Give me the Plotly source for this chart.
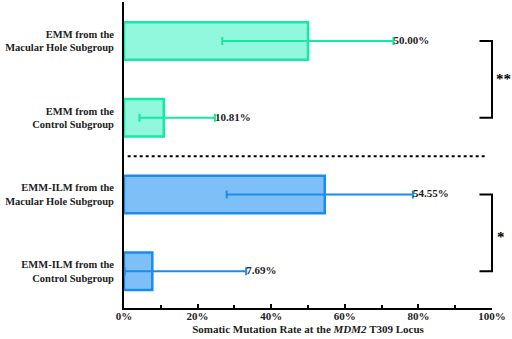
import plotly.graph_objects as go

categories = [
    "EMM-ILM from the<br>Control Subgroup",
    "EMM-ILM from the<br>Macular Hole Subgroup",
    "EMM from the<br>Control Subgroup",
    "EMM from the<br>Macular Hole Subgroup",
]
rates = [7.69, 54.55, 10.81, 50.00]
ci_low = [0.2, 27.9, 4.2, 26.7]
ci_high = [33.2, 78.5, 24.7, 73.2]
value_labels = ["7.69%", "54.55%", "10.81%", "50.00%"]
x_ticks = [0, 20, 40, 60, 80, 100]
x_ticklabels = ["0%", "20%", "40%", "60%", "80%", "100%"]

fill_colors = ["#7fbff8", "#7fbff8", "#92f8dd", "#92f8dd"]
edge_colors = ["#1a8cf0", "#1a8cf0", "#15e9a2", "#15e9a2"]
pos = list(range(len(categories)))

FONT = "Liberation Serif"
fig = go.Figure()
for i in pos:
    fig.add_trace(go.Bar(
        x=[rates[i]], y=[pos[i]], orientation="h", width=0.49,
        marker=dict(color=fill_colors[i], line=dict(color=edge_colors[i], width=2.5)),
        error_x=dict(type="data", symmetric=False,
                     array=[ci_high[i] - rates[i]], arrayminus=[rates[i] - ci_low[i]],
                     color=edge_colors[i], thickness=2, width=4),
        showlegend=False, hoverinfo="skip",
    ))
    fig.add_trace(go.Scatter(
        x=[ci_high[i]], y=[pos[i]], mode="text", text=["<b>" + value_labels[i] + "</b>"],
        textposition="middle right",
        textfont=dict(family=FONT, size=11, color="#222"),
        showlegend=False, hoverinfo="skip", cliponaxis=False,
    ))

# dotted separator
fig.add_shape(type="line", xref="x", yref="y", x0=1, x1=98.7, y0=1.5, y1=1.5,
              line=dict(color="black", width=2, dash="dot"))
# significance brackets
for (ya, yb) in [(3, 2), (1, 0)]:
    fig.add_shape(type="path", xref="paper", yref="y",
                  path=f"M 0.966 {ya} L 1.0 {ya} L 1.0 {yb} L 0.966 {yb}",
                  line=dict(color="black", width=2))
fig.add_annotation(x=1.031, xref="paper", xanchor="center", y=2.5, yref="y", text="<b>**</b>",
                   showarrow=False, font=dict(family=FONT, size=15, color="black"))
fig.add_annotation(x=1.024, xref="paper", xanchor="center", y=0.45, yref="y", text="<b>*</b>",
                   showarrow=False, font=dict(family=FONT, size=15, color="black"))

fig.update_layout(
    width=512, height=339,
    margin=dict(l=124, r=20, t=2, b=31, autoexpand=False),
    plot_bgcolor="white", paper_bgcolor="white",
    font=dict(family=FONT, size=11, color="#222"),
    xaxis=dict(
        range=[0, 100], tickvals=x_ticks, ticktext=["<b>" + t + "</b>" for t in x_ticklabels],
        showline=True, linecolor="black", linewidth=2, ticks="inside", ticklen=4,
        tickwidth=1.5, tickcolor="black", showgrid=False, zeroline=False, automargin=False,
        ticklabelstandoff=-3,
        minor=dict(dtick=10, ticks="inside", ticklen=3, tickwidth=1.5, tickcolor="black"),
        title=dict(text="<b>Somatic Mutation Rate at the <i>MDM2</i> T309 Locus</b>",
                   font=dict(family=FONT, size=11, color="#222"), standoff=4),
        tickfont=dict(family=FONT, size=11, color="#222"),
    ),
    yaxis=dict(
        range=[-0.478, 3.508], tickvals=pos, ticktext=["<b>" + c + "</b>" for c in categories],
        showline=True, linecolor="black", linewidth=2, ticks="", showgrid=False, automargin=False,
        zeroline=False, tickfont=dict(family=FONT, size=10.5, color="#222"), ticklabelstandoff=6,
    ),
)
fig.write_html("out.html", config={"displayModeBar": False},
               post_script="document.body.style.margin='0';document.body.style.overflow='hidden';")
